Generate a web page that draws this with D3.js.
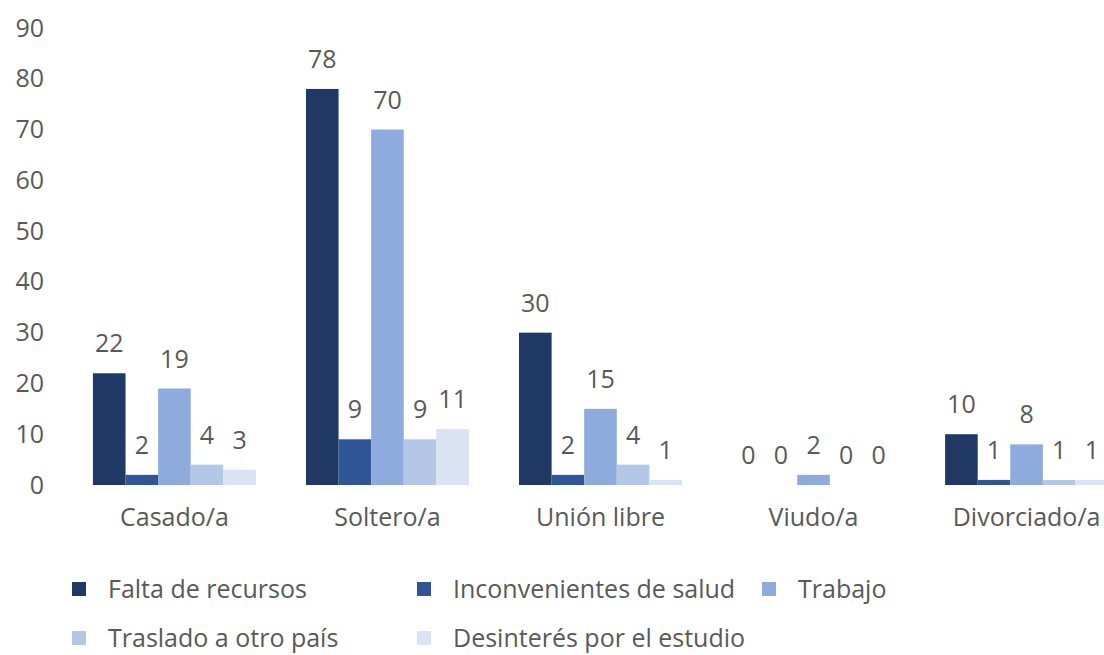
<!DOCTYPE html>
<html><head><meta charset="utf-8">
<script src="https://cdn.jsdelivr.net/npm/d3@7/dist/d3.min.js"></script>
<style>body{margin:0;background:#fff}svg{display:block}text{font-family:"Open Sans",sans-serif;fill:#595959}</style>
</head><body>
<script>
const categories = ["Casado/a","Soltero/a","Unión libre","Viudo/a","Divorciado/a"];
const seriesNames = ["Falta de recursos","Inconvenientes de salud","Trabajo","Traslado a otro país","Desinterés por el estudio"];
const faltaRecursos = [22,78,30,0,10];
const inconvenientesSalud = [2,9,2,0,1];
const trabajo = [19,70,15,2,8];
const traslado = [4,9,4,0,1];
const desinteres = [3,11,1,0,1];
const yTicks = [0,10,20,30,40,50,60,70,80,90];
const colors = ["#203864","#2F5597","#8FAADC","#B4C7E7","#DAE3F3"];

const series = [faltaRecursos,inconvenientesSalud,trabajo,traslado,desinteres];
const W=1104,H=655;
const svg=d3.select("body").append("svg").attr("width",W).attr("height",H);
const x=d3.scaleBand().domain(categories).range([68,1133]).paddingInner(0.235).paddingOuter(0.117);
const x1=d3.scaleBand().domain(d3.range(series.length)).range([0,x.bandwidth()]);
const y=d3.scaleLinear().domain([0,90]).range([485,28]);
const fs=25;

const ya=svg.append("g").attr("transform","translate(44,0)")
  .call(d3.axisLeft(y).tickValues(yTicks).tickSize(0).tickPadding(0));
ya.select(".domain").remove();
ya.selectAll("text").style("font-size",fs+"px").attr("fill","#595959").attr("font-family","Open Sans");

const xa=svg.append("g").attr("transform","translate(0,508)")
  .call(d3.axisBottom(x).tickSize(0).tickPadding(0));
xa.select(".domain").remove();
xa.selectAll("text").style("font-size",fs+"px").attr("fill","#595959").attr("font-family","Open Sans");

const g=svg.append("g");
categories.forEach((c,ci)=>{
  series.forEach((s,si)=>{
    const v=s[ci];
    g.append("rect").attr("x",x(c)+x1(si)).attr("width",x1.bandwidth())
      .attr("y",y(v)).attr("height",y(0)-y(v)).attr("fill",colors[si]);
    g.append("text").attr("x",x(c)+x1(si)+x1.bandwidth()/2).attr("y",y(v)-21)
      .attr("text-anchor","middle").style("font-size",fs+"px").text(v);
  });
});

const legPos=[[72,589],[417,589],[762,589],[72,638],[417,638]];
const lg=svg.append("g");
seriesNames.forEach((n,i)=>{
  const [lx,ly]=legPos[i];
  lg.append("rect").attr("x",lx).attr("y",ly-7).attr("width",14).attr("height",14).attr("fill",colors[i]);
  lg.append("text").attr("x",lx+36).attr("y",ly).attr("dy","0.35em").style("font-size",fs+"px").text(n);
});
</script>
</body></html>
